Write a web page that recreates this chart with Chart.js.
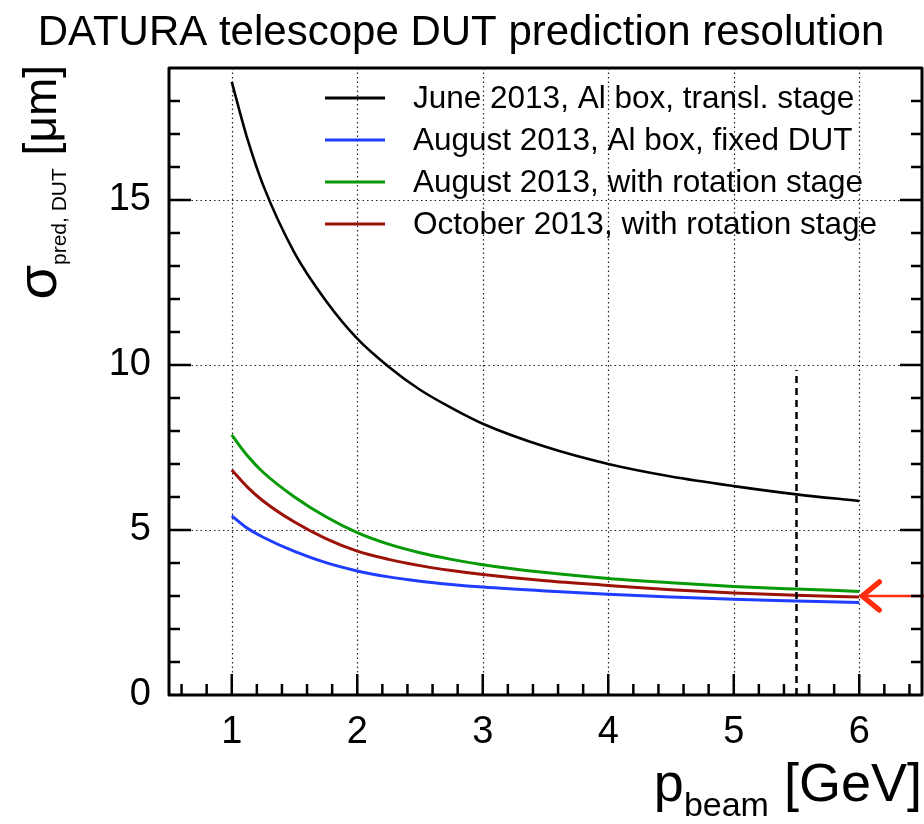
<!DOCTYPE html>
<html>
<head>
<meta charset="utf-8">
<title>DATURA telescope DUT prediction resolution</title>
<script src="https://cdn.jsdelivr.net/npm/chart.js@4.4.0/dist/chart.umd.min.js"></script>
<style>
  html, body { margin: 0; padding: 0; background: #fff; }
</style>
</head>
<body>
<canvas id="chart" width="924" height="824"></canvas>
<script>
'use strict';

// beam momentum in GeV and predicted DUT resolution in um
const momenta = [1, 1.125, 1.25, 1.5, 1.75, 2, 2.25, 2.5, 2.75, 3, 3.5, 4, 4.5, 5, 5.5, 6];
const sigmaJune = [18.58, 16.85, 15.45, 13.4, 11.95, 10.8, 9.95, 9.25, 8.7, 8.22, 7.52, 7.0, 6.62, 6.33, 6.08, 5.88];
const sigmaAugFixed = [5.43, 5.05, 4.78, 4.35, 4.01, 3.76, 3.58, 3.45, 3.35, 3.27, 3.15, 3.05, 2.97, 2.90, 2.85, 2.80];
const sigmaAugRotation = [7.88, 7.25, 6.75, 6.0, 5.4, 4.92, 4.57, 4.31, 4.11, 3.95, 3.71, 3.53, 3.40, 3.29, 3.21, 3.14];
const sigmaOctRotation = [6.82, 6.30, 5.88, 5.24, 4.74, 4.36, 4.11, 3.92, 3.77, 3.65, 3.46, 3.32, 3.19, 3.09, 3.02, 2.97];

const seriesLabels = [
    'June 2013, Al box, transl. stage',
    'August 2013, Al box, fixed DUT',
    'August 2013, with rotation stage',
    'October 2013, with rotation stage'
];
const seriesColors = ['#000000', '#1f3dff', '#079a07', '#9c1208'];

const xTickValues = [1, 2, 3, 4, 5, 6];
const yTickValues = [0, 5, 10, 15];
const xRange = [0.5, 6.5];
const yRange = [0, 19];

// dashed marker at 5.5 GeV and the arrow pointing at 3 um
const markerMomentum = 5.5;
const markerTop = 9.85;
const arrowLevel = 3.0;
const arrowTip = 6.0;

const FONT = '"Liberation Sans", Arial, Helvetica, sans-serif';

function points(values) {
    return momenta.map((p, i) => ({ x: p, y: values[i] }));
}

// draws a run of text pieces (main text + subscripts) starting at x0 on the baseline
function drawPieces(ctx, pieces, x0, y0) {
    let x = x0;
    pieces.forEach(pc => {
        ctx.font = pc.size + 'px ' + FONT;
        ctx.fillText(pc.text, x, y0 + (pc.dy || 0));
        x += ctx.measureText(pc.text).width;
    });
}

function piecesWidth(ctx, pieces) {
    return pieces.reduce((w, pc) => {
        ctx.font = pc.size + 'px ' + FONT;
        return w + ctx.measureText(pc.text).width;
    }, 0);
}

// ROOT-like frame: dotted grid, inward ticks, marker line, arrow, legend and axis titles
const rootFrame = {
    id: 'rootFrame',
    beforeDatasetsDraw(chart) {
        const { ctx, chartArea: a, scales: { x, y } } = chart;
        ctx.save();
        ctx.strokeStyle = '#222';
        ctx.lineWidth = 1.2;
        ctx.setLineDash([1.5, 3]);
        ctx.beginPath();
        xTickValues.forEach(v => {
            const px = Math.round(x.getPixelForValue(v)) + 0.5;
            ctx.moveTo(px, a.top);
            ctx.lineTo(px, a.bottom);
        });
        yTickValues.filter(v => v > yRange[0]).forEach(v => {
            const py = Math.round(y.getPixelForValue(v)) + 0.5;
            ctx.moveTo(a.left, py);
            ctx.lineTo(a.right, py);
        });
        ctx.stroke();
        ctx.restore();
    },
    afterDatasetsDraw(chart) {
        const { ctx, chartArea: a, scales: { x, y } } = chart;
        ctx.save();

        // vertical dashed marker
        const mx = x.getPixelForValue(markerMomentum);
        ctx.strokeStyle = '#000';
        ctx.lineWidth = 2.5;
        ctx.setLineDash([7, 5]);
        ctx.beginPath();
        ctx.moveTo(mx, y.getPixelForValue(yRange[0]));
        ctx.lineTo(mx, y.getPixelForValue(markerTop));
        ctx.stroke();
        ctx.setLineDash([]);

        // red arrow coming in from the right edge
        const ax = x.getPixelForValue(arrowTip);
        const ay = y.getPixelForValue(arrowLevel);
        ctx.strokeStyle = '#ff2d0e';
        ctx.lineWidth = 2.5;
        ctx.beginPath();
        ctx.moveTo(chart.width, ay);
        ctx.lineTo(ax + 3, ay);
        ctx.stroke();
        ctx.lineWidth = 5.5;
        ctx.lineCap = 'round';
        ctx.lineJoin = 'round';
        ctx.beginPath();
        ctx.moveTo(ax + 20, ay - 14);
        ctx.lineTo(ax + 3, ay);
        ctx.lineTo(ax + 20, ay + 14);
        ctx.stroke();
        ctx.lineCap = 'butt';

        // ticks
        ctx.strokeStyle = '#000';
        ctx.lineWidth = 2.5;
        ctx.beginPath();
        for (let i = 0; i <= 30; i++) {
            const v = xRange[0] + 0.1 + i * 0.2;
            if (v >= xRange[1]) break;
            const px = x.getPixelForValue(v);
            const major = Math.abs(v - Math.round(v)) < 1e-6;
            ctx.moveTo(px, a.bottom);
            ctx.lineTo(px, a.bottom - (major ? 21 : 11));
        }
        for (let v = yRange[0] + 1; v < yRange[1]; v++) {
            const py = y.getPixelForValue(v);
            const len = v % 5 === 0 ? 22 : 11;
            ctx.moveTo(a.left, py);
            ctx.lineTo(a.left + len, py);
            ctx.moveTo(a.right, py);
            ctx.lineTo(a.right - len, py);
        }
        ctx.stroke();

        // frame
        ctx.lineWidth = 3;
        ctx.strokeRect(a.left, a.top, a.right - a.left, a.bottom - a.top);
        ctx.restore();
    },
    afterDraw(chart) {
        const { ctx, chartArea: a } = chart;
        ctx.save();
        ctx.fillStyle = '#000';
        ctx.textBaseline = 'middle';
        ctx.textAlign = 'left';

        // legend
        ctx.font = '31.5px ' + FONT;
        chart.data.datasets.forEach((ds, i) => {
            const ly = a.top + 30 + i * 42;
            ctx.strokeStyle = ds.borderColor;
            ctx.lineWidth = 2.8;
            ctx.beginPath();
            ctx.moveTo(a.left + 156, ly);
            ctx.lineTo(a.left + 216, ly);
            ctx.stroke();
            ctx.fillText(ds.label, a.left + 244, ly + 1);
        });

        ctx.textBaseline = 'alphabetic';

        // x axis title, right aligned to the frame
        const xTitle = [
            { text: 'p', size: 54 },
            { text: 'beam', size: 34, dy: 15 },
            { text: ' [GeV]', size: 54 }
        ];
        drawPieces(ctx, xTitle, a.right - piecesWidth(ctx, xTitle), 801);

        // y axis title, rotated, right aligned to the frame top
        const yTitle = [
            { text: 'σ', size: 56 },
            { text: 'pred, DUT', size: 21, dy: 10 },
            { text: ' [μm]', size: 46 }
        ];
        ctx.translate(56, a.top - 3);
        ctx.rotate(-Math.PI / 2);
        drawPieces(ctx, yTitle, -piecesWidth(ctx, yTitle), 0);
        ctx.restore();
    }
};

const seriesValues = [sigmaJune, sigmaAugFixed, sigmaAugRotation, sigmaOctRotation];

const datasets = seriesValues.map((vals, i) => ({
    label: seriesLabels[i],
    data: points(vals),
    borderColor: seriesColors[i],
    borderWidth: i === 0 ? 2.6 : 3,
    pointRadius: 0,
    fill: false,
    tension: 0.4,
    cubicInterpolationMode: 'monotone'
}));

new Chart(document.getElementById('chart'), {
    type: 'line',
    data: { datasets: datasets },
    options: {
        responsive: false,
        animation: false,
        layout: { padding: { left: 0, right: 2, top: 0, bottom: 0 } },
        plugins: {
            legend: { display: false },
            tooltip: { enabled: false },
            title: {
                display: true,
                text: 'DATURA telescope DUT prediction resolution',
                color: '#000',
                font: { family: FONT, size: 42, weight: 'normal', lineHeight: 1.2 },
                padding: { top: 8, bottom: 9.6 }
            }
        },
        scales: {
            x: {
                type: 'linear',
                min: xRange[0],
                max: xRange[1],
                grid: { display: false, drawTicks: false },
                border: { display: false },
                ticks: {
                    color: '#000',
                    font: { family: FONT, size: 38 },
                    padding: 15,
                    maxRotation: 0
                },
                afterBuildTicks: s => { s.ticks = xTickValues.map(v => ({ value: v })); },
                afterFit: s => { s.height = 129; }
            },
            y: {
                type: 'linear',
                min: yRange[0],
                max: yRange[1],
                grid: { display: false, drawTicks: false },
                border: { display: false },
                ticks: {
                    color: '#000',
                    font: { family: FONT, size: 38 },
                    padding: 18
                },
                afterBuildTicks: s => { s.ticks = yTickValues.map(v => ({ value: v })); },
                afterFit: s => { s.width = 169; }
            }
        }
    },
    plugins: [rootFrame]
});
</script>
</body>
</html>
